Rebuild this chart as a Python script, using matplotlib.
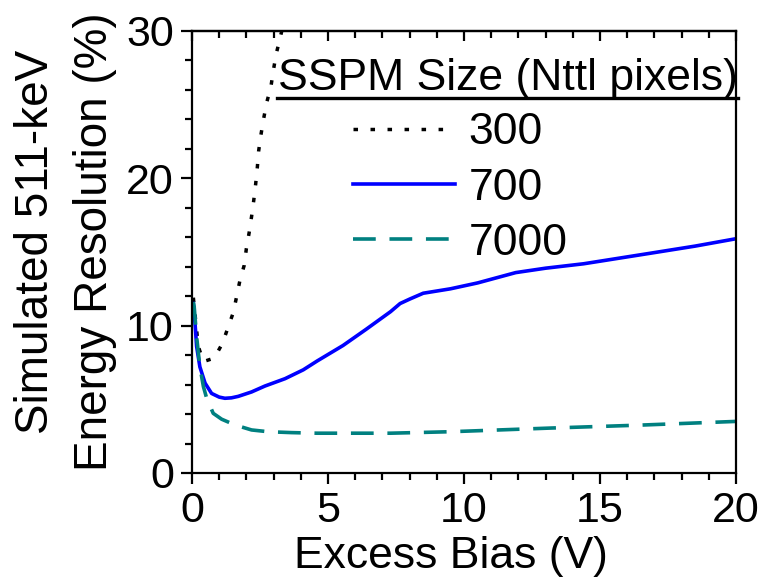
import matplotlib
matplotlib.use("Agg")
import matplotlib.pyplot as plt
from matplotlib.ticker import MultipleLocator, NullFormatter

plt.rcParams['font.family'] = ['Liberation Sans', 'DejaVu Sans']

# excess bias (V) vs simulated 511-keV energy resolution (%)
x_300 = [0.05, 0.23, 0.42, 0.82, 1.12, 1.31, 1.52, 1.64, 1.76, 1.92, 2.0, 2.1, 2.19, 2.27,
         2.34, 2.4, 2.45, 2.53, 2.63, 2.74, 2.9, 2.99, 3.09, 3.23, 3.3]
y_300 = [11.9, 8.6, 7.56, 7.8, 8.8, 9.8, 10.9, 11.97, 13.05, 14.1, 15.25, 16.3, 17.4, 18.5,
         19.6, 20.7, 21.85, 22.9, 24.0, 25.1, 26.2, 27.3, 28.4, 29.45, 30.0]

x_700 = [0.05, 0.11, 0.17, 0.29, 0.48, 0.72, 1.0, 1.21, 1.45, 1.7, 2.19, 2.68, 3.42, 4.09,
         4.6, 5.55, 6.4, 7.3, 7.65, 8.0, 8.5, 9.5, 10.5, 11.9, 13.0, 14.4, 16.8, 18.5, 20.0]
y_700 = [11.5, 10.2, 8.6, 7.2, 6.1, 5.4, 5.15, 5.07, 5.1, 5.2, 5.5, 5.9, 6.4, 7.0,
         7.6, 8.65, 9.75, 10.95, 11.5, 11.8, 12.2, 12.5, 12.9, 13.6, 13.9, 14.2, 14.9, 15.4, 15.9]

x_7000 = [0.05, 0.08, 0.17, 0.29, 0.42, 0.54, 0.78, 1.09, 1.58, 2.19, 2.8, 3.66, 4.6, 7.3,
          9.5, 13.2, 16.5, 20.0]
y_7000 = [11.6, 11.3, 9.25, 7.2, 5.86, 5.07, 4.05, 3.65, 3.26, 2.92, 2.8, 2.74, 2.7, 2.7,
          2.8, 3.05, 3.25, 3.5]

labels = ['300', '700', '7000']

fig = plt.figure(figsize=(7.64, 5.78), dpi=100)
ax = fig.add_axes([0.2513, 0.1817, 0.7121, 0.7647])

l1, = ax.plot(x_300, y_300, color='black', lw=2.5, dashes=(1.3, 3.6))
l2, = ax.plot(x_700, y_700, color='#0000ff', lw=2.6)
l3, = ax.plot(x_7000, y_7000, color='#008080', lw=2.6, dashes=(6.3, 3.8))

ax.set_xlim(0, 20)
ax.set_ylim(0, 30)
ax.xaxis.set_major_locator(MultipleLocator(5))
ax.xaxis.set_minor_locator(MultipleLocator(1))
ax.yaxis.set_major_locator(MultipleLocator(10))
ax.yaxis.set_minor_locator(MultipleLocator(2))

for s in ax.spines.values():
    s.set_linewidth(1.6)
ax.tick_params(which='major', length=8, width=1.6, labelsize=31, direction='out', pad=5)
ax.tick_params(which='minor', length=5, width=1.6, direction='out')
ax.tick_params(top=False, right=False, which='both')

# inward ticks along the top edge
top = ax.secondary_xaxis('top')
top.xaxis.set_major_locator(MultipleLocator(5))
top.xaxis.set_minor_locator(MultipleLocator(1))
top.xaxis.set_major_formatter(NullFormatter())
top.tick_params(which='major', length=7, width=1.6, direction='in')
top.tick_params(which='minor', length=5, width=1.6, direction='in')
top.spines['top'].set_linewidth(1.6)

ax.set_xlabel('Excess Bias (V)', fontsize=32)
ax.xaxis.set_label_coords(0.476, -0.143)
ax.set_ylabel('Simulated 511-keV\nEnergy Resolution (%)', fontsize=33, linespacing=1.45)
ax.yaxis.set_label_coords(-0.137, 0.523)

# legend title with underline
ax.text(0.158, 0.8665, 'SSPM Size (Nttl pixels)', transform=ax.transAxes,
        fontsize=32, ha='left', va='baseline')
ax.plot([0.156, 1.004], [0.848, 0.848], transform=ax.transAxes, color='black',
        lw=2.4, clip_on=False)

ax.legend([l1, l2, l3], labels, loc='upper left', bbox_to_anchor=(0.296, 0.816),
          frameon=False, fontsize=32, handlelength=2.3, handletextpad=0.3,
          labelspacing=0.32, borderaxespad=0, borderpad=0)

fig.savefig('out.png', dpi=100)
